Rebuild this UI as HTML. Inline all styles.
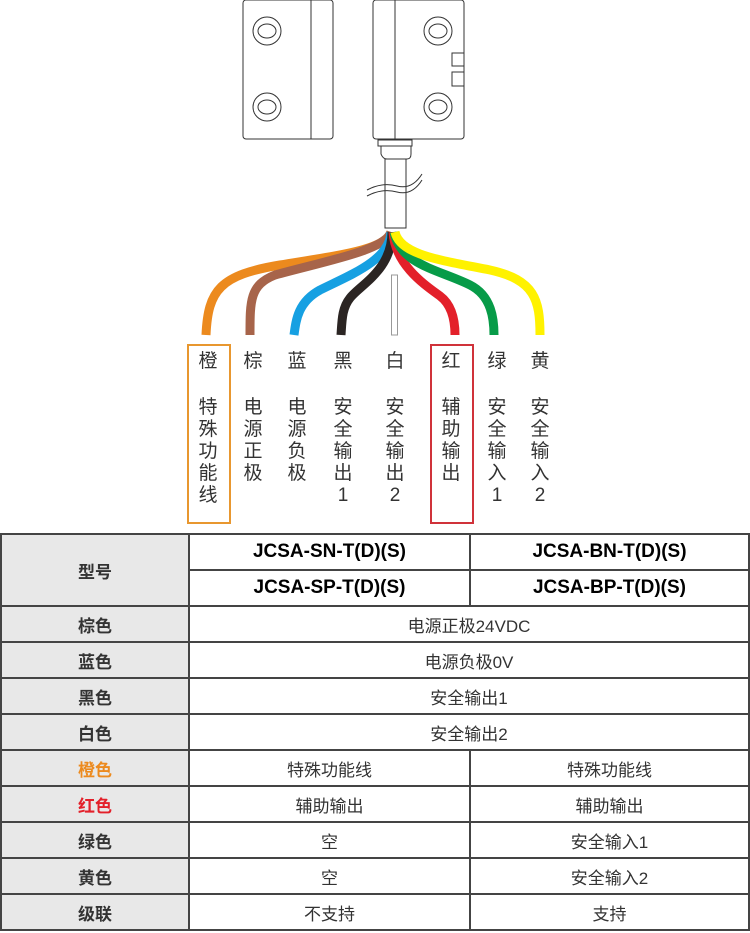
<!DOCTYPE html>
<html><head><meta charset="utf-8"><style>
body{margin:0;width:750px;height:933px;background:#fff;position:relative;overflow:hidden;font-family:"Liberation Sans","Noto Sans CJK SC",sans-serif}
.c{position:absolute;width:30px;margin-left:-15px;text-align:center;font-size:19px;line-height:22px;color:#333}
table{position:absolute;left:0;top:533px;width:750px;border-collapse:collapse;font-size:17px;color:#333}
td{border:2px solid #444;text-align:center;height:34px;padding:0}
td.h{background:#e8e8e8;font-weight:bold;width:186px}
td.m{font-weight:bold;font-size:19px;color:#000}
</style></head><body>
<svg width="750" height="530" style="position:absolute;left:0;top:0" fill="none" stroke="#333" stroke-width="1">
<rect x="243" y="0" width="90" height="139" rx="3"/><line x1="311" y1="0" x2="311" y2="139"/>
<circle cx="267" cy="31" r="14"/><ellipse cx="267" cy="31" rx="9" ry="7"/>
<circle cx="267" cy="107" r="14"/><ellipse cx="267" cy="107" rx="9" ry="7"/>
<rect x="373" y="0" width="91" height="139" rx="3"/><line x1="395" y1="0" x2="395" y2="139"/>
<circle cx="438" cy="31" r="14"/><ellipse cx="438" cy="31" rx="9" ry="7"/>
<circle cx="438" cy="107" r="14"/><ellipse cx="438" cy="107" rx="9" ry="7"/>
<rect x="452" y="53" width="12" height="13"/><rect x="452" y="72" width="12" height="14"/>
<rect x="378" y="140" width="34" height="6"/><path d="M381 146 v8 q2 5 6 5 h20 q4 0 4 -5 v-8"/>
<rect x="385" y="159" width="21" height="69"/>
<path d="M367 196 q15 -8 30 -4 q15 4 25 -12 M367 190 q15 -8 30 -4 q15 4 25 -12" stroke-width="1"/>
<g stroke-width="9" stroke-linecap="butt">
<path d="M391 232 C385 250 340 255 280 265 C220 275 208 290 206 335" stroke="#ec8a1e"/>
<path d="M391 232 C385 250 330 260 275 275 C250 285 250 300 250 335" stroke="#a7644a"/>
<path d="M391 232 C390 260 350 275 320 290 C298 302 296 320 294 335" stroke="#16a0e2"/>
<path d="M392 232 C392 270 360 285 350 298 C342 308 342 320 341 335" stroke="#2b2523"/>
<path d="M393 232 C395 265 425 285 440 296 C452 305 455 320 455 335" stroke="#e3202a"/>
<path d="M394 232 C400 265 440 270 470 285 C492 296 494 320 494 335" stroke="#079b48"/>
<path d="M395 232 C400 255 440 260 490 270 C535 280 540 300 540 335" stroke="#fff200"/>
</g>
<rect x="391.5" y="275" width="6" height="60" fill="#fff" stroke="#999"/>
<rect x="188" y="345" width="42" height="178" stroke="#e8972f" stroke-width="2"/>
<rect x="431" y="345" width="42" height="178" stroke="#d0323a" stroke-width="2"/>
</svg>
<div class="c" style="left:208px;top:351px">橙</div><div class="c" style="left:208px;top:397px">特<br>殊<br>功<br>能<br>线</div>
<div class="c" style="left:253px;top:351px">棕</div><div class="c" style="left:253px;top:397px">电<br>源<br>正<br>极</div>
<div class="c" style="left:297px;top:351px">蓝</div><div class="c" style="left:297px;top:397px">电<br>源<br>负<br>极</div>
<div class="c" style="left:343px;top:351px">黑</div><div class="c" style="left:343px;top:397px">安<br>全<br>输<br>出<br>1</div>
<div class="c" style="left:395px;top:351px">白</div><div class="c" style="left:395px;top:397px">安<br>全<br>输<br>出<br>2</div>
<div class="c" style="left:451px;top:351px">红</div><div class="c" style="left:451px;top:397px">辅<br>助<br>输<br>出</div>
<div class="c" style="left:497px;top:351px">绿</div><div class="c" style="left:497px;top:397px">安<br>全<br>输<br>入<br>1</div>
<div class="c" style="left:540px;top:351px">黄</div><div class="c" style="left:540px;top:397px">安<br>全<br>输<br>入<br>2</div>
<table>
<tr><td class="h" rowspan="2">型号</td><td class="m">JCSA-SN-T(D)(S)</td><td class="m">JCSA-BN-T(D)(S)</td></tr>
<tr><td class="m">JCSA-SP-T(D)(S)</td><td class="m">JCSA-BP-T(D)(S)</td></tr>
<tr><td class="h">棕色</td><td colspan="2">电源正极24VDC</td></tr>
<tr><td class="h">蓝色</td><td colspan="2">电源负极0V</td></tr>
<tr><td class="h">黑色</td><td colspan="2">安全输出1</td></tr>
<tr><td class="h">白色</td><td colspan="2">安全输出2</td></tr>
<tr><td class="h" style="color:#ec8a1e">橙色</td><td style="width:279px">特殊功能线</td><td>特殊功能线</td></tr>
<tr><td class="h" style="color:#e3202a">红色</td><td>辅助输出</td><td>辅助输出</td></tr>
<tr><td class="h">绿色</td><td>空</td><td>安全输入1</td></tr>
<tr><td class="h">黄色</td><td>空</td><td>安全输入2</td></tr>
<tr><td class="h">级联</td><td>不支持</td><td>支持</td></tr>
</table>
</body></html>
